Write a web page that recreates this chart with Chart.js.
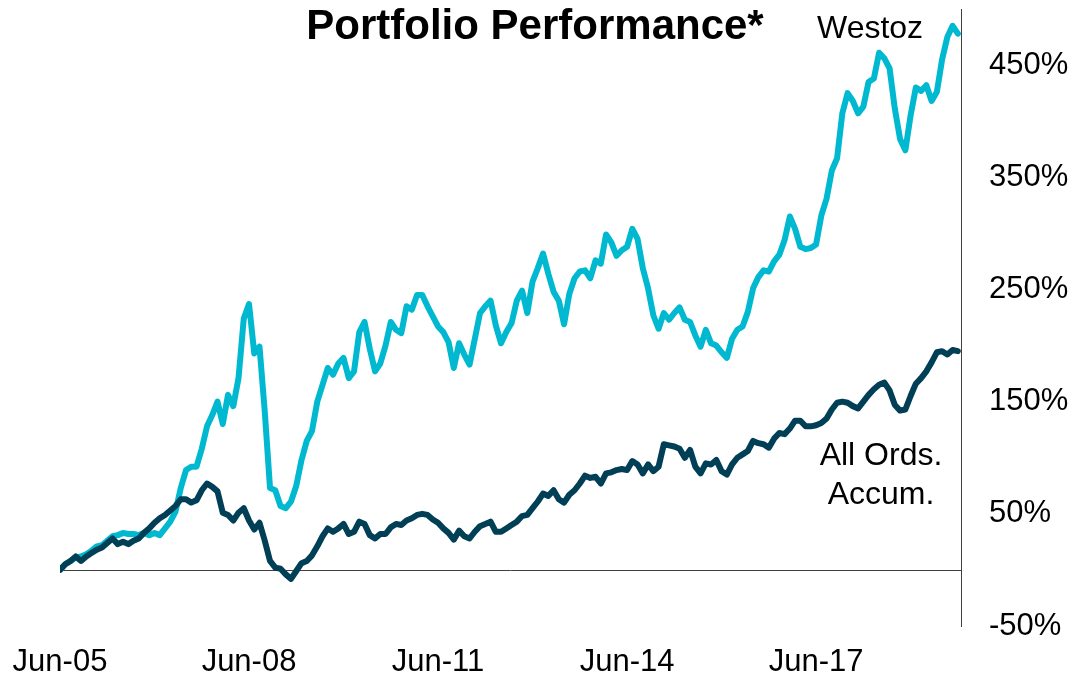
<!DOCTYPE html>
<html>
<head>
<meta charset="utf-8">
<title>Portfolio Performance</title>
<script src="https://cdn.jsdelivr.net/npm/chart.js@4.4.1/dist/chart.umd.min.js"></script>
<style>
  html, body { margin: 0; padding: 0; background: #fff; }
  .chart-wrap {
    position: relative;
    width: 1074px;
    height: 678px;
    font-family: "Liberation Sans", Arial, sans-serif;
    color: #000;
  }
  .chart-title {
    position: absolute;
    left: 0;
    top: 4px;
    width: 1070px;
    text-align: center;
    font-size: 42px;
    line-height: 42px;
    font-weight: bold;
  }
  .series-label {
    position: absolute;
    font-size: 32px;
    line-height: 39px;
    text-align: center;
  }
</style>
</head>
<body>
<div class="chart-wrap">
  <canvas id="perf"></canvas>
  <div class="chart-title">Portfolio Performance*</div>
  <div class="series-label" style="left: 817px; top: 8px;">Westoz</div>
  <div class="series-label" style="left: 781px; top: 435px; width: 200px;">All Ords.<br>Accum.</div>
</div>
<script>
  // monthly, Jun-05 .. Sep-19, cumulative return in %
  const xTickLabels = [`Jun-05`, `Jun-08`, `Jun-11`, `Jun-14`, `Jun-17`];
  const xTickMonths = [0, 36, 72, 108, 144];
  const yTicks = [-50, 50, 150, 250, 350, 450];

  const westoz = [
    0, 5, 8, 11, 12, 14, 17, 21, 22, 26, 30, 31,
    33, 32, 32, 31, 33, 31, 33, 31, 37, 43, 52, 73,
    89, 92, 92, 108, 128, 138, 150, 130, 156, 146, 171, 224,
    237, 193, 199, 141, 73, 71, 57, 55, 61, 75, 98, 115,
    124, 150, 165, 180, 174, 184, 189, 171, 177, 212, 221, 197,
    177, 184, 200, 221, 214, 211, 235, 232, 245, 245, 235, 226,
    217, 212, 203, 180, 202, 192, 183, 206, 229, 235, 240, 218,
    202, 212, 220, 240, 249, 229, 257, 269, 282, 264, 248, 240,
    219, 246, 260, 266, 267, 260, 276, 273, 299, 292, 280, 285,
    288, 304, 295, 269, 251, 227, 215, 229, 223, 229, 234, 223,
    221, 209, 199, 214, 202, 200, 194, 189, 206, 214, 217, 230,
    251, 261, 267, 266, 275, 281, 294, 315, 304, 288, 286, 287,
    290, 316, 331, 356, 367, 407, 425, 418, 407, 413, 435, 438,
    461, 456, 447, 411, 384, 374, 405, 430, 427, 432, 418, 426,
    455, 475, 485, 478
  ];

  const allOrds = [
    0, 5, 8, 12, 8, 12, 15, 18, 20, 24, 28, 23,
    25, 23, 26, 28, 33, 37, 42, 46, 49, 53, 57, 63,
    63, 60, 62, 71, 77, 74, 70, 51, 49, 44, 51, 55,
    44, 36, 42, 26, 8, 2, 1, -4, -8, -1, 6, 8,
    13, 21, 30, 37, 34, 37, 41, 32, 34, 43, 41, 31,
    28, 32, 32, 38, 41, 40, 44, 46, 49, 50, 49, 45,
    42, 37, 33, 27, 35, 30, 28, 34, 39, 41, 43, 34,
    34, 37, 40, 43, 48, 49, 55, 61, 68, 66, 71, 63,
    60, 67, 71, 77, 84, 82, 83, 77, 86, 87, 89, 90,
    89, 97, 94, 86, 94, 88, 92, 112, 111, 110, 108, 100,
    107, 92, 86, 95, 94, 98, 88, 85, 94, 100, 103, 106,
    115, 113, 112, 109, 117, 122, 121, 126, 133, 133, 128, 128,
    129, 131, 135, 143, 149, 150, 149, 146, 144, 150, 156, 161,
    165, 167, 160, 147, 142, 143, 155, 166, 171, 177, 185, 194,
    195, 192, 196, 195
  ];

  const toPoints = (values) => values.map((v, i) => ({x: i, y: v}));

  const zeroLine = {
    id: `zeroLine`,
    beforeDatasetsDraw(chart) {
      const {ctx, chartArea, scales} = chart;
      const y = Math.round(scales.y.getPixelForValue(0)) + 0.5;
      ctx.save();
      ctx.strokeStyle = `#404040`;
      ctx.lineWidth = 1;
      ctx.beginPath();
      ctx.moveTo(chartArea.left, y);
      ctx.lineTo(chartArea.right, y);
      ctx.stroke();
      ctx.restore();
    }
  };

  Chart.defaults.font.family = `"Liberation Sans", Arial, sans-serif`;
  Chart.defaults.color = `#000000`;

  new Chart(document.getElementById(`perf`), {
    type: `line`,
    data: {
      datasets: [{
        label: `All Ords. Accum.`,
        data: toPoints(allOrds),
        borderColor: `#003f56`,
        borderWidth: 6,
        pointRadius: 0,
        tension: 0,
        borderJoinStyle: `round`,
        borderCapStyle: `round`
      }, {
        label: `Westoz`,
        data: toPoints(westoz),
        borderColor: `#00b9d1`,
        borderWidth: 6,
        pointRadius: 0,
        tension: 0,
        borderJoinStyle: `round`,
        borderCapStyle: `round`
      }]
    },
    options: {
      responsive: true,
      maintainAspectRatio: false,
      animation: false,
      devicePixelRatio: 1,
      layout: {
        padding: {left: 60, right: 0, top: 9, bottom: 0}
      },
      plugins: {
        legend: {display: false},
        tooltip: {enabled: false}
      },
      scales: {
        x: {
          type: `linear`,
          min: 0,
          max: 171.6,
          grid: {display: false, drawTicks: false},
          border: {display: false},
          afterBuildTicks: (axis) => {
            axis.ticks = xTickMonths.map((v) => ({value: v}));
          },
          afterFit: (axis) => {
            axis.height = 52;
            axis.paddingLeft = 0;
            axis.paddingRight = 0;
          },
          ticks: {
            autoSkip: false,
            maxRotation: 0,
            padding: 21,
            font: {size: 31, lineHeight: 1},
            callback: (value) => xTickLabels[xTickMonths.indexOf(value)]
          }
        },
        y: {
          position: `right`,
          min: -50,
          max: 500,
          grid: {display: false, drawTicks: false},
          border: {display: true, color: `#404040`, width: 1},
          afterBuildTicks: (axis) => {
            axis.ticks = yTicks.map((v) => ({value: v}));
          },
          afterFit: (axis) => {
            axis.width = 113;
            axis.paddingTop = 0;
            axis.paddingBottom = 0;
          },
          ticks: {
            padding: 28,
            font: {size: 31, lineHeight: 1},
            callback: (value) => `${value}%`
          }
        }
      }
    },
    plugins: [zeroLine]
  });
</script>
</body>
</html>
